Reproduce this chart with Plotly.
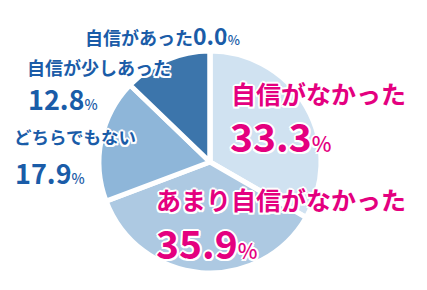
import plotly.graph_objects as go

labels = ["自信がなかった", "あまり自信がなかった", "どちらでもない", "自信が少しあった", "自信があった"]
values = [33.3, 35.9, 17.9, 12.8, 0.0]
colors = ["#d0e2f1", "#adc9e2", "#8eb6d9", "#3c75ab", "#1c5da6"]
text_colors = ["#e4007f", "#e4007f", "#1a5ca8", "#1a5ca8", "#1a5ca8"]

W, H = 427, 290
cx, cy, r = 210, 162, 111

fig = go.Figure(go.Pie(
    labels=labels, values=values, sort=False, direction="clockwise", rotation=0,
    marker=dict(colors=colors, line=dict(color="white", width=5)),
    textinfo="none", hoverinfo="label+value", showlegend=False,
    domain=dict(x=[(cx - r) / W, (cx + r) / W], y=[1 - (cy + r) / H, 1 - (cy - r) / H]),
))

FONT = "Noto Sans CJK JP"
shadow = "1.5px 1.5px 0 #fff, -1.5px -1.5px 0 #fff, 1.5px -1.5px 0 #fff, -1.5px 1.5px 0 #fff, 0 2px 0 #fff, 0 -2px 0 #fff, 2px 0 0 #fff, -2px 0 0 #fff"

def ann(x, y, text, size, color):
    fig.add_annotation(x=x / W, y=1 - y / H, xref="paper", yref="paper", text=text,
                       showarrow=False, xanchor="left", yanchor="middle",
                       font=dict(family=FONT, size=size, color=color, weight="bold", shadow=shadow))

def pct(v, size):
    return f"{v:.1f}<span style='font-size:{int(size*0.55)}px;font-weight:500'>%</span>"

# 自信がなかった
ann(229, 93, labels[0], 25, text_colors[0])
ann(228, 135, pct(values[0], 39), 39, text_colors[0])
# あまり自信がなかった
ann(154, 199, labels[1], 25, text_colors[1])
ann(154, 242, pct(values[1], 39), 39, text_colors[1])
# どちらでもない
ann(12, 136, labels[2], 17.5, text_colors[2])
ann(13, 172, pct(values[2], 27), 27, text_colors[2])
# 自信が少しあった
ann(25, 67, labels[3], 18, text_colors[3])
ann(26, 98, pct(values[3], 27), 27, text_colors[3])
# 自信があった
ann(83, 35, labels[4] + f"<span style='font-size:23px'>{values[4]:.1f}</span><span style='font-size:13px;font-weight:500'>%</span>", 18, text_colors[4])

fig.update_layout(width=W, height=H, margin=dict(l=0, r=0, t=0, b=0),
                  paper_bgcolor="white", plot_bgcolor="white")
fig.write_html("out.html")
